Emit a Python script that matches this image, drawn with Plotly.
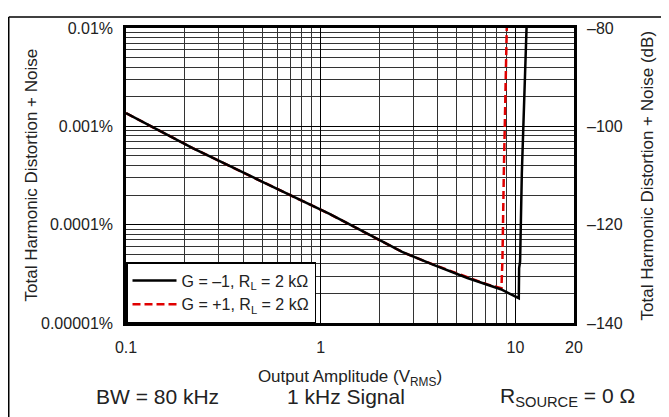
import plotly.graph_objects as go

# ---- data ----
amp_g_neg1 = [0.1, 0.22, 0.49, 1.11, 2.62, 3.80, 5.67, 7.18, 8.41, 10.41, 10.45, 10.57, 10.79, 11.41]
thd_g_neg1 = [0.00136, 0.000601, 0.000279, 0.0001285, 5.28e-5, 3.90e-5, 2.87e-5, 2.44e-5,
              2.206e-5, 1.789e-5, 3.61e-5, 4.2e-5, 3.27e-4, 1e-2]

amp_g_pos1 = [0.1, 0.22, 0.49, 1.11, 2.62, 3.80, 5.67, 7.18, 8.48, 8.58, 8.72, 9.03]
thd_g_pos1 = [0.00136, 0.000601, 0.000279, 0.0001285, 5.28e-5, 3.92e-5, 2.92e-5, 2.47e-5,
              2.26e-5, 4.4e-5, 3.27e-4, 1e-2]

x_tickvals = [0.1, 1, 10, 20]
x_ticktext = ["0.1", "1", "10", "20"]
y_tickvals = [1e-5, 1e-4, 1e-3, 1e-2]
y_ticktext = ["0.00001%", "0.0001%", "0.001%", "0.01%"]
db_tickvals = [-140, -120, -100, -80]
db_ticktext = ["\u2013140", "\u2013120", "\u2013100", "\u201380"]

x_minor = [m * d for d in (0.1, 1) for m in range(2, 10)]
y_minor = [m * d for d in (1e-5, 1e-4, 1e-3) for m in range(2, 10)]

FONT = "Liberation Sans, Arial, sans-serif"

# page body has an 8px margin: the figure is sized to the visible window
W, H = 661, 409
L, T, PW, PH = 118, 12, 448, 303

fig = go.Figure()
# red drawn first so the black curve sits on top of it (as in the reference)
fig.add_trace(go.Scatter(
    x=amp_g_pos1, y=thd_g_pos1, mode="lines",
    name="G = +1, R<sub>L</sub> = 2 k\u03a9", legendrank=2,
    line=dict(color="#e00000", width=2.5, dash="8px,4px")))
fig.add_trace(go.Scatter(
    x=amp_g_neg1, y=thd_g_neg1, mode="lines",
    name="G = \u20131, R<sub>L</sub> = 2 k\u03a9", legendrank=1,
    line=dict(color="black", width=2.5)))
# invisible trace so the dB axis is drawn
fig.add_trace(go.Scatter(x=[None], y=[None], yaxis="y2", showlegend=False, hoverinfo="skip"))

fig.update_layout(
    width=W, height=H,
    margin=dict(l=L, r=W - L - PW, t=T, b=H - T - PH),
    paper_bgcolor="white", plot_bgcolor="white",
    font=dict(family=FONT, size=16, color="#222"),
    showlegend=True,
    legend=dict(x=0, y=0, xanchor="left", yanchor="bottom",
                bgcolor="white", bordercolor="black", borderwidth=1.5,
                font=dict(size=16, color="#222"), itemwidth=44,
                tracegroupgap=0, traceorder="normal"),
    xaxis=dict(type="log", range=[-1, 1.30103],
               tickmode="array", tickvals=x_tickvals, ticktext=x_ticktext,
               ticks="", ticklabelstandoff=8,
               showgrid=True, gridcolor="black", gridwidth=1,
               minor=dict(tickmode="array", tickvals=x_minor, showgrid=True,
                          gridcolor="#333", gridwidth=1, ticks=""),
               showline=True, linecolor="black", linewidth=2.5, mirror=True,
               title=dict(text="Output Amplitude (V<sub>RMS</sub>)", font=dict(size=17),
                          standoff=16),
               zeroline=False),
    yaxis=dict(type="log", range=[-5, -2],
               tickmode="array", tickvals=y_tickvals, ticktext=y_ticktext,
               ticks="", ticklabelstandoff=7,
               showgrid=True, gridcolor="black", gridwidth=1,
               minor=dict(tickmode="array", tickvals=y_minor, showgrid=True,
                          gridcolor="#333", gridwidth=1, ticks=""),
               showline=True, linecolor="black", linewidth=2.5, mirror=True,
               zeroline=False),
    yaxis2=dict(overlaying="y", side="right", range=[-140, -80],
                tickmode="array", tickvals=db_tickvals, ticktext=db_ticktext,
                ticks="", ticklabelstandoff=12, showgrid=False, zeroline=False,
                showline=False),
)

def px(xr):
    return (xr - 8 - L) / PW

def py(yr):
    return 1 - (yr - 8 - T) / PH

annotations = [
    dict(text="Total Harmonic Distortion + Noise", x=px(31), y=0.5,
         textangle=-90, font=dict(size=17)),
    dict(text="Total Harmonic Distortion + Noise (dB)", x=px(647), y=0.5,
         textangle=-90, font=dict(size=17)),
    dict(text="BW = 80 kHz", x=px(157), y=py(399), font=dict(size=21)),
    dict(text="1 kHz Signal", x=px(346), y=py(399), font=dict(size=21)),
    dict(text="R<sub>SOURCE</sub> = 0 \u03a9", x=px(567), y=py(399), font=dict(size=21)),
]
for a in annotations:
    a.update(xref="paper", yref="paper", showarrow=False, xanchor="center", yanchor="middle")
fig.update_layout(annotations=annotations)

fig.update_layout(shapes=[
    dict(type="line", xref="paper", yref="paper",
         x0=(0.75 - L) / PW, x1=(W + 5 - L) / PW,
         y0=1 + (T - 0.75) / PH, y1=1 + (T - 0.75) / PH,
         line=dict(color="black", width=1.5)),
    dict(type="line", xref="paper", yref="paper",
         x0=(0.75 - L) / PW, x1=(0.75 - L) / PW,
         y0=1 + (T - 0.75) / PH, y1=1 - (H + 5 - T) / PH,
         line=dict(color="black", width=1.5)),
])

fig.write_html("out.html")
